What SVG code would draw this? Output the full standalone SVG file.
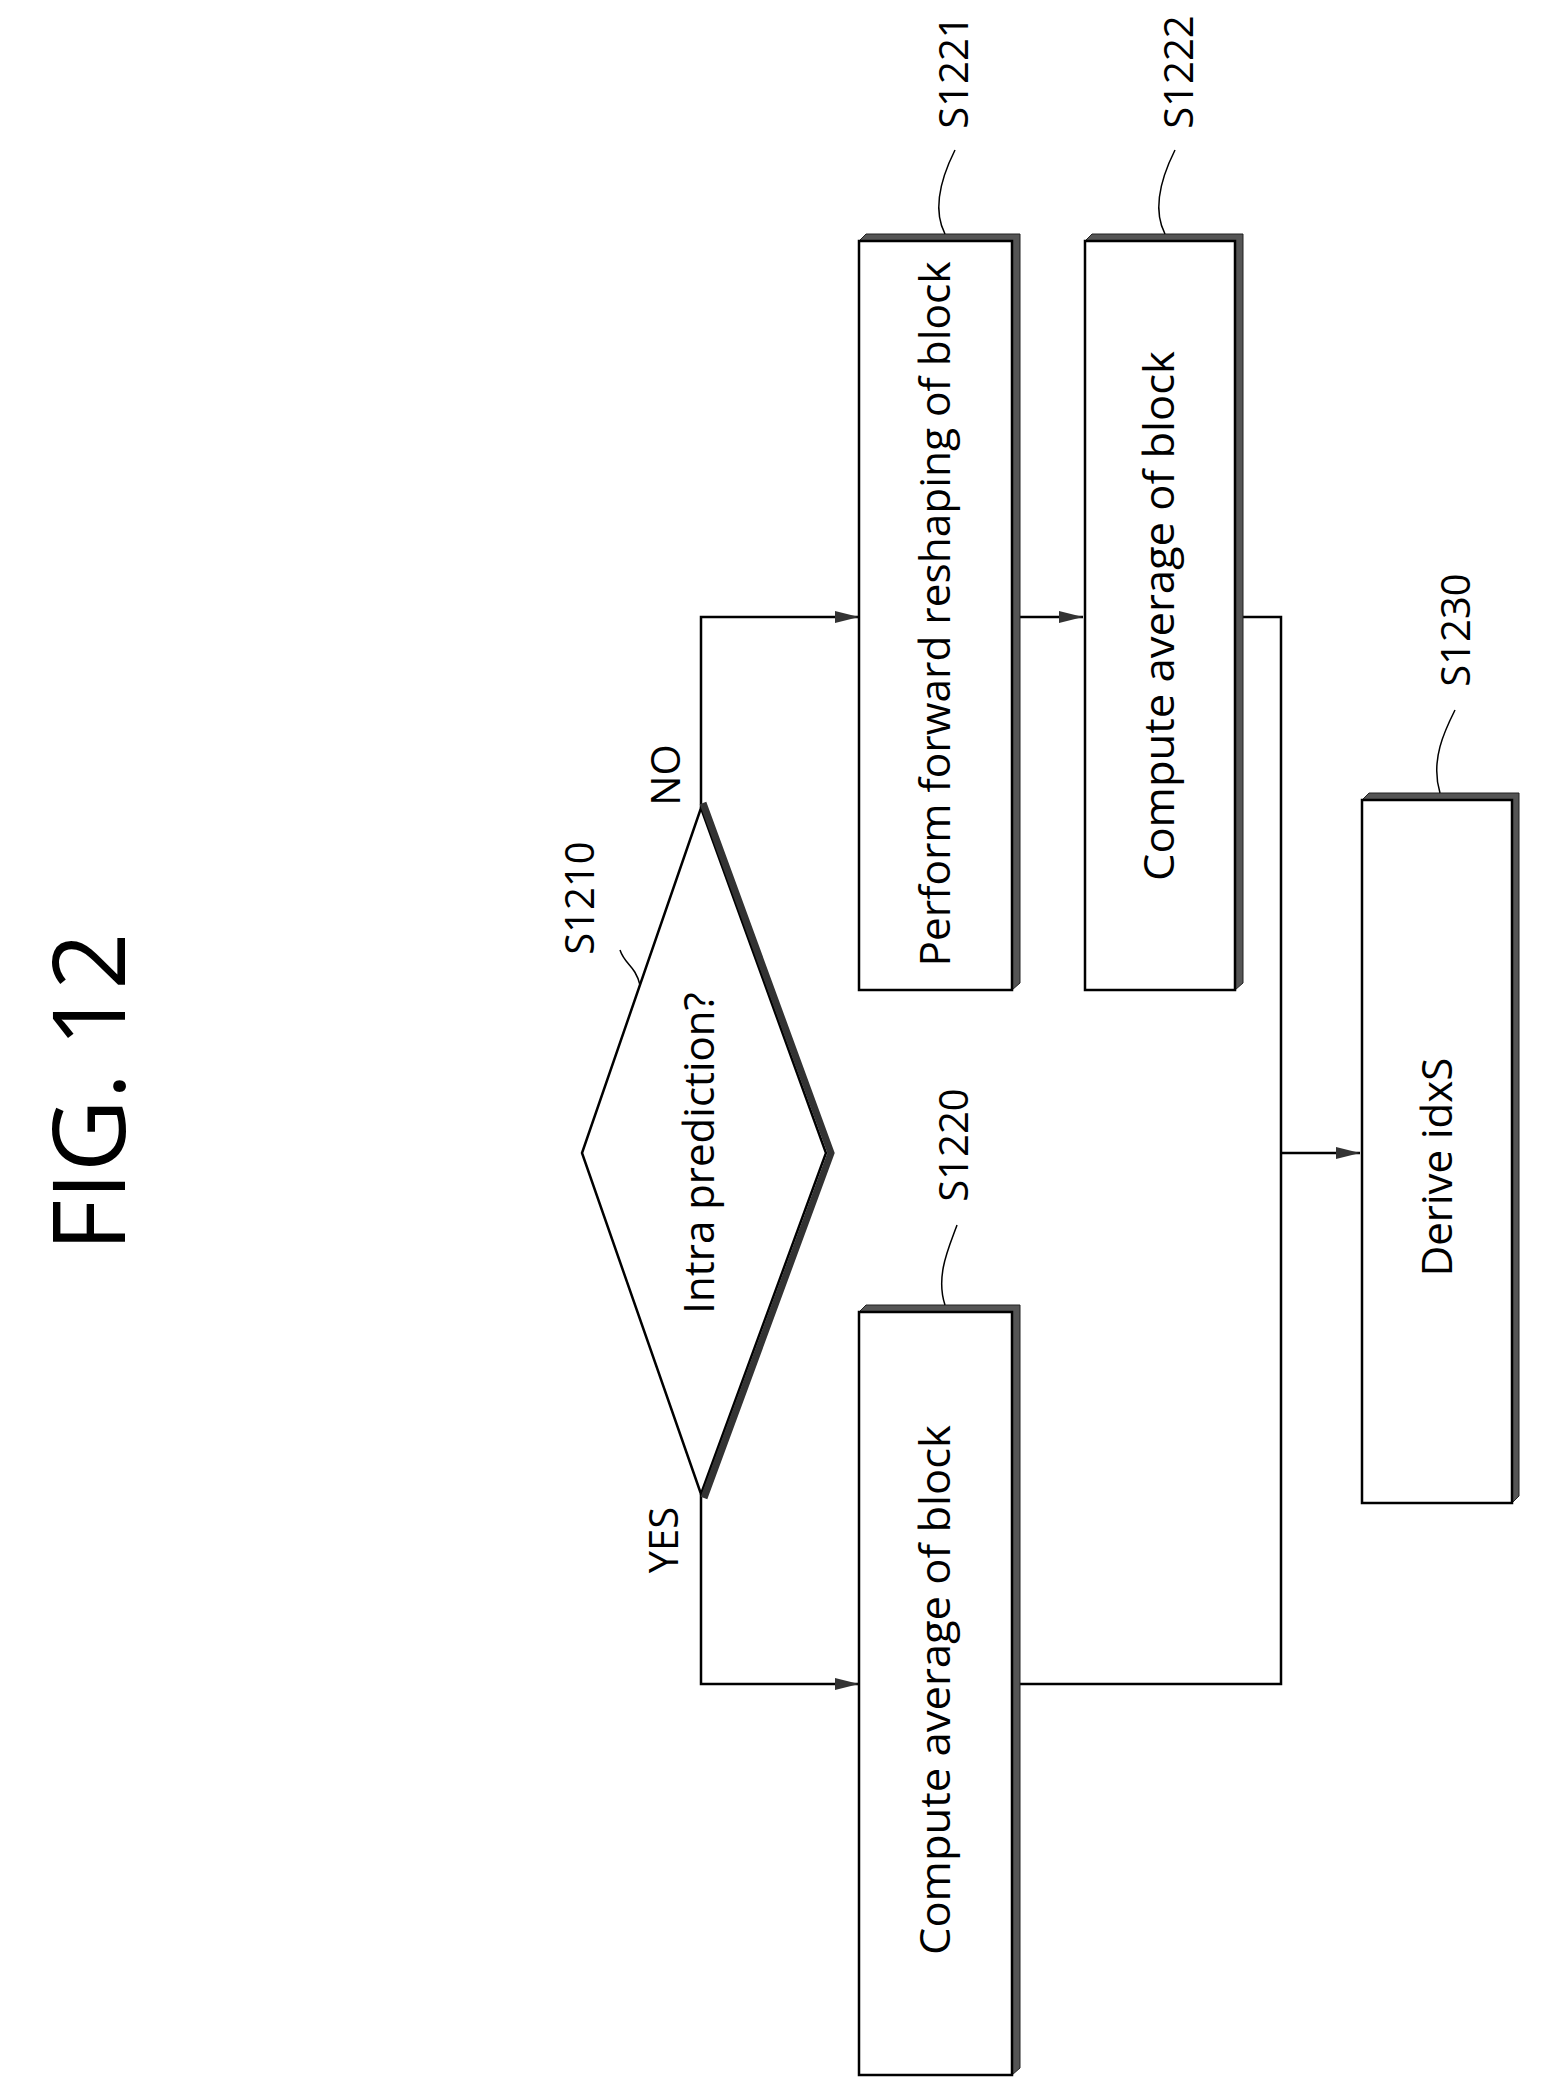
<svg xmlns="http://www.w3.org/2000/svg" width="1541" height="2084" viewBox="0 0 1541 2084">
<style>
.box{fill:#fff;stroke:#000;stroke-width:2.5}
.sh{fill:#555;stroke:#222;stroke-width:1}
.ln{fill:none;stroke:#000;stroke-width:2.5}
.ld{fill:none;stroke:#000;stroke-width:1.5}
text{font-family:"Open Sans","Noto Sans","DejaVu Sans",sans-serif;fill:#000}
.t{font-size:42px}
.l{font-size:40px}
</style>
<defs>
<marker id="ar" viewBox="0 0 20 10" refX="20" refY="5" markerWidth="24" markerHeight="12" markerUnits="userSpaceOnUse" orient="auto"><path d="M0,0 L20,5 L0,10 z" fill="#333"/></marker>
</defs>
<rect width="1541" height="2084" fill="#fff"/>
<text x="125" y="1092" font-size="100" text-anchor="middle" transform="rotate(-90 125 1092)">FIG. 12</text>
<g id="connectors">
<polyline class="ln" points="701,808 701,617 859,617" marker-end="url(#ar)"/>
<line class="ln" x1="1020" y1="617" x2="1083" y2="617" marker-end="url(#ar)"/>
<polyline class="ln" points="701,1494 701,1684 859,1684" marker-end="url(#ar)"/>
<polyline class="ln" points="1243,617 1281,617 1281,1684 1020,1684"/>
<line class="ln" x1="1281" y1="1153" x2="1360" y2="1153" marker-end="url(#ar)"/>
</g>
<g id="S1210">
<polygon points="701,808 826,1153 701,1494 582,1153" class="box"/>
<polyline points="703,803 831,1153 704,1498" fill="none" stroke="#333" stroke-width="7"/>
<text class="t" x="714" y="1153" text-anchor="middle" transform="rotate(-90 714 1153)">Intra prediction?</text>
<text class="l" x="594" y="898" text-anchor="middle" transform="rotate(-90 594 898)">S1210</text>
<path class="ld" d="M640,985 C635,965 625,965 620,950"/>
<text class="l" x="678" y="1540" text-anchor="middle" transform="rotate(-90 678 1540)">YES</text>
<text class="l" x="680" y="775" text-anchor="middle" transform="rotate(-90 680 775)">NO</text>
</g>
<g id="S1221">
<polygon class="sh" points="859,241 866,234 1020,234 1020,983 1012,990 1012,241"/>
<rect class="box" x="859" y="241" width="153" height="749"/>
<text class="t" x="950" y="614" text-anchor="middle" transform="rotate(-90 950 614)" textLength="705" lengthAdjust="spacingAndGlyphs">Perform forward reshaping of block</text>
<text class="l" x="968" y="72" text-anchor="middle" transform="rotate(-90 968 72)">S1221</text>
<path class="ld" d="M945,234 C930,205 945,170 955,150"/>
</g>
<g id="S1222">
<polygon class="sh" points="1085,241 1092,234 1243,234 1243,983 1235,990 1235,241"/>
<rect class="box" x="1085" y="241" width="150" height="749"/>
<text class="t" x="1174" y="616" text-anchor="middle" transform="rotate(-90 1174 616)" textLength="530" lengthAdjust="spacingAndGlyphs">Compute average of block</text>
<text class="l" x="1193" y="72" text-anchor="middle" transform="rotate(-90 1193 72)">S1222</text>
<path class="ld" d="M1165,234 C1150,205 1165,170 1175,150"/>
</g>
<g id="S1230">
<polygon class="sh" points="1362,800 1369,793 1519,793 1519,1496 1512,1503 1512,800"/>
<rect class="box" x="1362" y="800" width="150" height="703"/>
<text class="t" x="1452" y="1167" text-anchor="middle" transform="rotate(-90 1452 1167)">Derive idxS</text>
<text class="l" x="1470" y="630" text-anchor="middle" transform="rotate(-90 1470 630)">S1230</text>
<path class="ld" d="M1440,793 C1430,760 1445,730 1455,710"/>
</g>
<g id="S1220">
<polygon class="sh" points="859,1312 866,1305 1020,1305 1020,2068 1012,2075 1012,1312"/>
<rect class="box" x="859" y="1312" width="153" height="763"/>
<text class="t" x="950" y="1690" text-anchor="middle" transform="rotate(-90 950 1690)" textLength="530" lengthAdjust="spacingAndGlyphs">Compute average of block</text>
<text class="l" x="968" y="1145" text-anchor="middle" transform="rotate(-90 968 1145)">S1220</text>
<path class="ld" d="M945,1305 C935,1275 950,1245 957,1225"/>
</g>
</svg>
